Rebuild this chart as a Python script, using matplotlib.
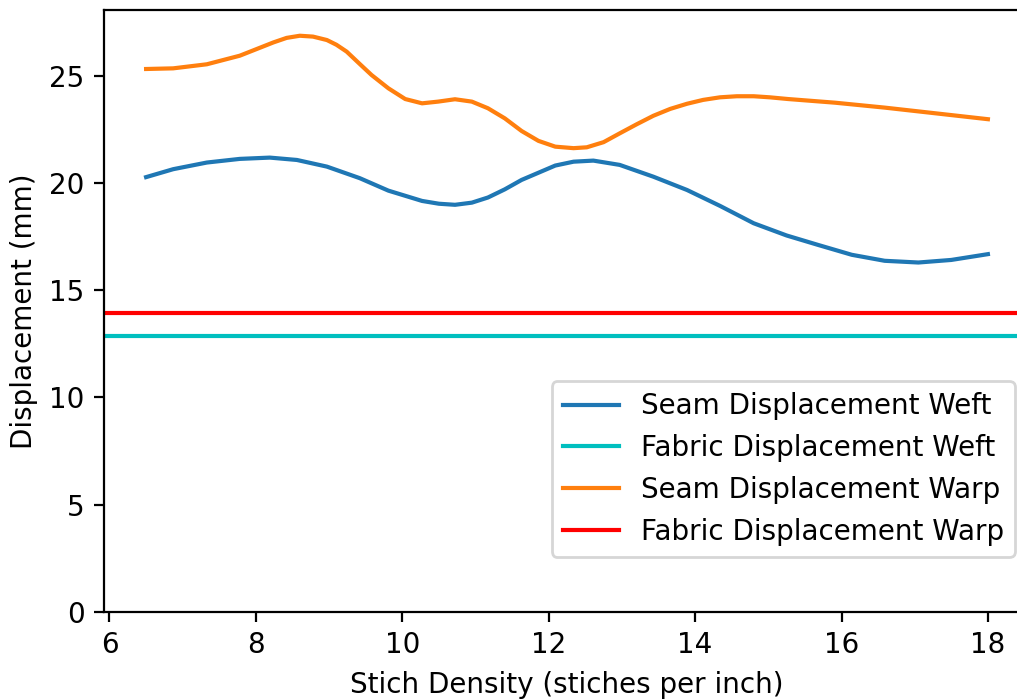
import matplotlib
matplotlib.use("Agg")
import matplotlib.pyplot as plt

# Seam displacement (read densely along the smooth curves)
weft_x = [6.5, 6.87, 7.33, 7.78, 8.19, 8.56, 8.97, 9.42, 9.81, 10.27, 10.50, 10.72, 10.95,
          11.17, 11.40, 11.63, 12.09, 12.34, 12.61, 12.97, 13.43, 13.89, 14.34, 14.80,
          15.25, 15.68, 16.14, 16.59, 17.05, 17.50, 18.0]
weft_y = [20.27, 20.64, 20.95, 21.12, 21.18, 21.07, 20.76, 20.22, 19.64, 19.16, 19.03, 18.98, 19.08,
          19.32, 19.70, 20.14, 20.81, 20.99, 21.04, 20.84, 20.29, 19.67, 18.93, 18.12,
          17.55, 17.11, 16.65, 16.37, 16.29, 16.41, 16.68]

warp_x = [6.5, 6.87, 7.33, 7.78, 8.24, 8.42, 8.60, 8.78, 8.97, 9.10, 9.24, 9.42, 9.58, 9.81,
          10.04, 10.27, 10.49, 10.72, 10.95, 11.17, 11.40, 11.63, 11.86, 12.09, 12.34,
          12.52, 12.75, 12.97, 13.20, 13.43, 13.66, 13.89, 14.11, 14.34, 14.57, 14.80,
          15.02, 15.27, 15.91, 16.59, 17.27, 18.0]
warp_y = [25.31, 25.34, 25.53, 25.93, 26.55, 26.76, 26.86, 26.82, 26.66, 26.44, 26.12, 25.54, 25.03,
          24.41, 23.91, 23.71, 23.79, 23.90, 23.79, 23.48, 23.01, 22.42, 21.96, 21.69, 21.62,
          21.66, 21.90, 22.31, 22.73, 23.13, 23.45, 23.69, 23.87, 23.99, 24.04, 24.04,
          23.99, 23.91, 23.74, 23.51, 23.25, 22.97]

fabric_weft = 12.85
fabric_warp = 13.96

labels = ["Seam Displacement Weft", "Fabric Displacement Weft",
          "Seam Displacement Warp", "Fabric Displacement Warp"]

fig = plt.figure(figsize=(1017 / 200, 700 / 200), dpi=200)
ax = fig.add_axes([104 / 1017, 88 / 700, (1030 - 104) / 1017, 602 / 700])

ax.plot(weft_x, weft_y, color="C0", label=labels[0], solid_joinstyle="round")
ax.axhline(fabric_weft, color="c", label=labels[1])
ax.plot(warp_x, warp_y, color="C1", label=labels[2], solid_joinstyle="round")
ax.axhline(fabric_warp, color="r", label=labels[3])

ax.set_xlim(5.925, 18.575)
ax.set_ylim(0, 28.06)
ax.set_xticks([6, 8, 10, 12, 14, 16, 18])
ax.set_yticks([0, 5, 10, 15, 20, 25])
ax.set_xlabel("Stich Density (stiches per inch)")
ax.set_ylabel("Displacement (mm)")

ax.legend(loc="lower right", bbox_to_anchor=(1015 / 1017, 143 / 700),
          bbox_transform=fig.transFigure, borderaxespad=0)

fig.savefig("out.png", dpi=200)
